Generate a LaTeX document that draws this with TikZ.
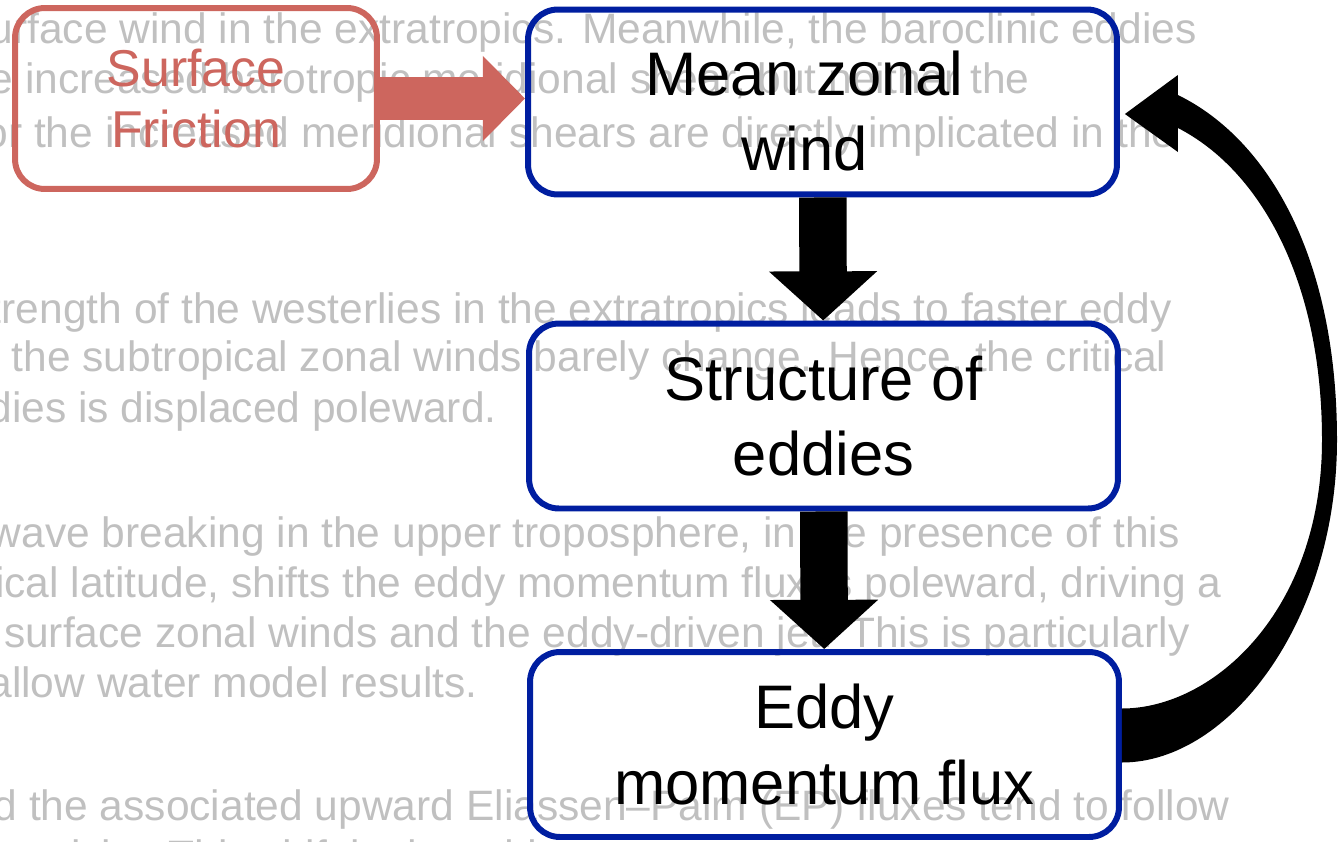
\documentclass[tikz,border=0pt]{standalone}
\usepackage{fontspec}
\setmainfont{Liberation Sans}
\usepackage{xcolor}
\usetikzlibrary{arrows.meta,calc}
\definecolor{notegray}{RGB}{192,192,192}
\definecolor{loopblue}{RGB}{0,30,160}
\definecolor{forcered}{RGB}{205,102,94}
\tikzset{
  loopbox/.style={draw=loopblue, line width=3.4pt, rounded corners=17pt,
    align=center, font=\fontsize{35}{43}\selectfont,
    minimum width=11.78cm, minimum height=3.7cm},
  boxtext/.style={align=center, font=\fontsize{35}{43}\selectfont},
  forcebox/.style={draw=forcered, line width=3.4pt, rounded corners=17pt,
    align=center, text=forcered, font=\fontsize{29.5}{35}\selectfont,
    minimum width=7.24cm, minimum height=3.62cm},
  note/.style={anchor=base east, inner sep=0pt, text=notegray,
    font=\fontsize{24.2}{29}\selectfont},
  fatarrow/.style={line width=27pt, -{Triangle[width=60pt,length=28pt]}},
  redarrow/.style={draw=forcered, line width=24.4pt,
    -{Triangle[width=47pt,length=24pt]}},
}

\begin{document}
\begin{tikzpicture}[x=0.02cm,y=-0.02cm]
\useasboundingbox (0,0) rectangle (1343,842);
\clip (0,0) rectangle (1343,842);
%
\node[note] (n1) at (1197,43) {the surface wind in the extratropics. Meanwhile, the baroclinic eddies};
\node[note] (n2) at (1030,93) {the increased barotropic meridional shear, but neither the};
\node[note] (n3) at (1176,147) {for the increased meridional shears are directly implicated in the};
%
\node[note] (n4) at (1172,323) {strength of the westerlies in the extratropics leads to faster eddy};
\node[note] (n5) at (1167,371) {while the subtropical zonal winds barely change. Hence, the critical};
\node[note] (n6) at (497,422) {of eddies is displaced poleward.};
%
\node[note] (n7) at (1180,547) {Rossby wave breaking in the upper troposphere, in the presence of this};
\node[note] (n8) at (1222,597) {critical latitude, shifts the eddy momentum fluxes poleward, driving a};
\node[note] (n9) at (1190,647) {in the surface zonal winds and the eddy-driven jet. This is particularly};
\node[note] (n10) at (478,697) {in shallow water model results.};
%
\node[note] (n11) at (1230,820) {and the associated upward Eliassen--Palm (EP) fluxes tend to follow};
\node[note, anchor=base west] (n12) at (14,870) {activity. This shift in the eddy};
%
\node[forcebox] (fric) at (196,98.5) {Surface\\Friction};
\node[loopbox] (wind) at (822.5,102) {};
\node[boxtext] (windtxt) at ($(wind.center)+(-18,9)$) {Mean zonal\\wind};
\node[loopbox] (struct) at (823.5,416) {Structure of\\eddies};
\node[loopbox] (flux) at (824.5,744.5) {Eddy\\momentum flux};
%
\draw[redarrow] (fric.east) -- (fric.east -| wind.west);
\draw[fatarrow] (wind) -- (struct);
\draw[fatarrow] (struct) -- (flux);
%
\fill ($(flux.east)+(0,18)$) .. controls +(108,0) and +(0,180) .. (1337,440)
  .. controls +(0,-180) and +(92,45) .. ($(wind.east)+(58,-7)$)
  -- ++(0,-20) -- ($(wind.east)+(5,12)$) -- ($(wind.east)+(58,50)$) -- ++(0,-24)
  .. controls +(82,42) and +(0,-160) .. (1322,440)
  .. controls +(0,170) and +(92,0) .. ($(flux.east)+(0,-36)$) -- cycle;
\end{tikzpicture}
\end{document}
